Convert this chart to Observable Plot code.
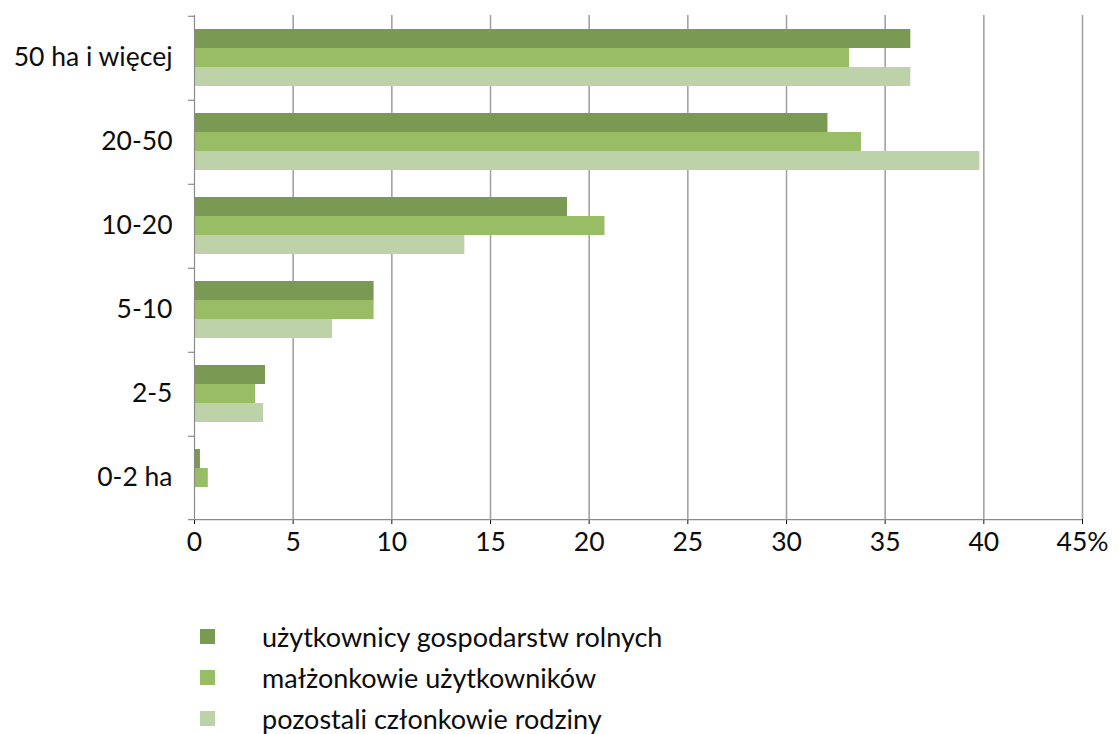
<!DOCTYPE html>
<html>
<head>
<meta charset="utf-8">
<script src="https://cdn.jsdelivr.net/npm/d3@7"></script>
<script src="https://cdn.jsdelivr.net/npm/@observablehq/plot@0.6"></script>
<style>
  html, body { margin: 0; padding: 0; background: #fff; }
  #wrap { position: relative; width: 1118px; height: 734px; overflow: hidden; font-family: Lato, "Open Sans", sans-serif; }
  #legend { position: absolute; left: 200px; top: 616px; }
  .row { display: flex; align-items: center; height: 41px; }
  .sw { width: 15px; height: 15px; margin-right: 47px; }
  .lbl { font-size: 27px; color: #0d0d0d; line-height: 1; }
</style>
</head>
<body>
<div id="wrap">
  <div id="chart"></div>
  <div id="legend"></div>
</div>
<script>
const categories = ["50 ha i więcej", "20-50", "10-20", "5-10", "2-5", "0-2 ha"];
const series = ["użytkownicy gospodarstw rolnych", "małżonkowie użytkowników", "pozostali członkowie rodziny"];
const operators = [36.3, 32.1, 18.9, 9.1, 3.6, 0.3];
const spouses = [33.2, 33.8, 20.8, 9.1, 3.1, 0.7];
const others = [36.3, 39.8, 13.7, 7.0, 3.5, 0];
const xTicks = [0, 5, 10, 15, 20, 25, 30, 35, 40, 45];
const colors = ["#7a9952", "#98bd64", "#bed2aa"];

const valuesBySeries = [operators, spouses, others];
const rows = [];
categories.forEach((c, i) => {
  series.forEach((s, j) => rows.push({category: c, series: s, value: valuesBySeries[j][i]}));
});

const step = 505 / 6 / (3 + 2 * 0.67);
const edge = (0.5 + 0.67) * step;

const chart = Plot.plot({
  width: 1118,
  height: 570,
  marginLeft: 194,
  marginRight: 36,
  marginTop: 14,
  marginBottom: 51,
  style: {fontFamily: "Lato, 'Open Sans', sans-serif", fontSize: "26.5px", color: "#0d0d0d", background: "#fff", overflow: "visible"},
  fy: {domain: categories, padding: 0, axis: "left", tickSize: 0, tickPadding: 22, label: null},
  y: {domain: series, paddingInner: 0, paddingOuter: 0.67, axis: null},
  x: {domain: [0, 45], ticks: xTicks, tickSize: 5, tickPadding: 8, label: null,
      tickFormat: d => d === 45 ? "45%" : String(d)},
  color: {domain: series, range: colors},
  marks: [
    Plot.gridX(xTicks.filter(d => d > 0), {stroke: "#a3a3a3", strokeOpacity: 1, strokeWidth: 1.6}),
    Plot.barX(rows, {fy: "category", y: "series", x: "value", fill: "series"}),
    Plot.ruleX([0], {stroke: "#8a8a8a", strokeWidth: 1.2}),
    Plot.ruleY([series[0]], {x1: -0.3, x2: 0, dy: -edge, stroke: "#8a8a8a", strokeWidth: 1.2}),
    Plot.ruleY([series[2]], {fy: () => categories[categories.length - 1], x1: -0.3, x2: 45, dy: edge, stroke: "#8a8a8a", strokeWidth: 1.2})
  ]
});
document.getElementById("chart").appendChild(chart);

const legend = document.getElementById("legend");
series.forEach((s, j) => {
  const row = document.createElement("div");
  row.className = "row";
  const sw = document.createElement("div");
  sw.className = "sw";
  sw.style.background = colors[j];
  const lbl = document.createElement("div");
  lbl.className = "lbl";
  lbl.textContent = s;
  row.appendChild(sw);
  row.appendChild(lbl);
  legend.appendChild(row);
});
</script>
</body>
</html>
